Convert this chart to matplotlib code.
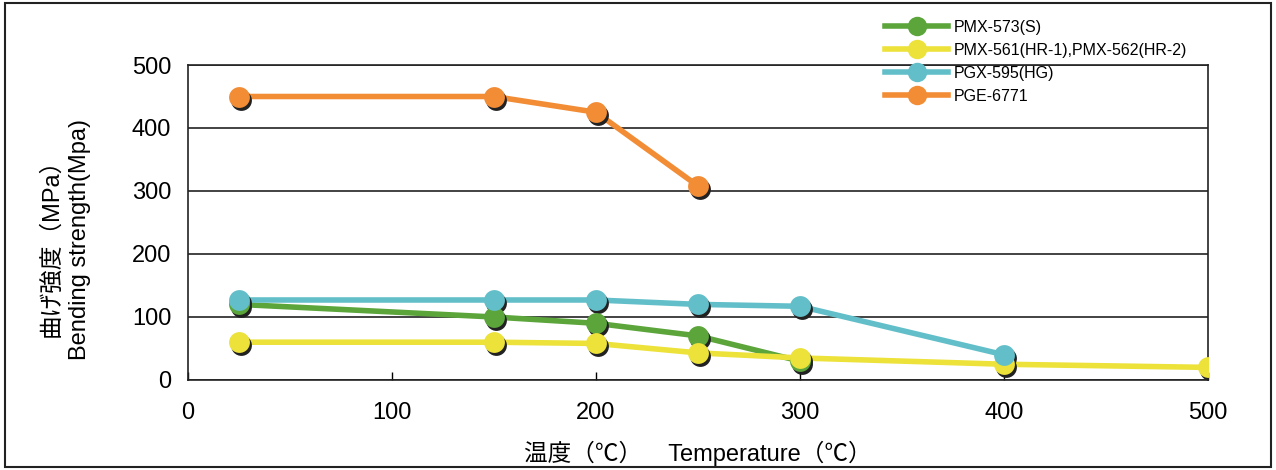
import matplotlib
matplotlib.use("Agg")
import matplotlib.pyplot as plt
import matplotlib.transforms as mtransforms
from matplotlib.patches import Rectangle

plt.rcParams['font.family'] = ['Liberation Sans', 'Noto Sans CJK JP', 'DejaVu Sans']

# data
temp_573 = [25, 150, 200, 250, 300]
str_573 = [120, 100, 90, 70, 30]
temp_561 = [25, 150, 200, 250, 300, 400, 500]
str_561 = [60, 60, 58, 43, 35, 25, 20]
temp_595 = [25, 150, 200, 250, 300, 400]
str_595 = [127, 127, 127, 120, 117, 40]
temp_6771 = [25, 150, 200, 250]
str_6771 = [450, 450, 425, 308]

series = [
    ("PMX-573(S)", temp_573, str_573, "#5ba53b"),
    ("PMX-561(HR-1),PMX-562(HR-2)", temp_561, str_561, "#ece23a"),
    ("PGX-595(HG)", temp_595, str_595, "#62bfc9"),
    ("PGE-6771", temp_6771, str_6771, "#f28c35"),
]

xticks = [0, 100, 200, 300, 400, 500]
yticks = [0, 100, 200, 300, 400, 500]

fig = plt.figure(figsize=(12.76, 4.70), dpi=100)
ax = fig.add_axes([0.1473, 0.1915, 0.7994, 0.6702])

# lines first, then dark shadow dots, then the coloured dots
shadow = mtransforms.offset_copy(ax.transData, fig=fig, x=2.5, y=-3, units='dots')
handles = []
for i, (name, x, y, col) in enumerate(series):
    ax.plot(x, y, color=col, lw=4, zorder=3 + i * 0.1, solid_capstyle='round')
for i, (name, x, y, col) in enumerate(series):
    ax.plot(x, y, ls='none', marker='o', ms=15, color='#222222', mec='none',
            transform=shadow, zorder=4)
for i, (name, x, y, col) in enumerate(series):
    ax.plot(x, y, ls='none', marker='o', ms=15, color=col, mec='none', zorder=5)
    h, = ax.plot([], [], color=col, lw=4, marker='o', ms=14, mec='none')
    handles.append((h, name))

ax.set_xlim(0, 500)
ax.set_ylim(0, 500)
ax.set_xticks(xticks)
ax.set_yticks(yticks)
ax.tick_params(axis='x', direction='in', length=6, width=1, pad=16, labelsize=17)
ax.tick_params(axis='y', length=0, pad=12, labelsize=17)
ax.yaxis.grid(True, color='#222222', lw=1.2)
ax.set_axisbelow(True)
for s in ax.spines.values():
    s.set_linewidth(1.2)
    s.set_color('#222222')

ax.set_xlabel("温度（℃）    Temperature（℃）", fontsize=17, labelpad=12)
fig.text(0.040, 0.485, "曲げ強度（MPa）", rotation=90, fontsize=17, ha='center', va='center')
fig.text(0.063, 0.49, "Bending strength(Mpa)", rotation=90, fontsize=17, ha='center', va='center')

fig.legend([h for h, _ in handles], [n for _, n in handles],
           loc='upper left', bbox_to_anchor=(0.687, 0.975), frameon=False,
           fontsize=11.5, handlelength=4.0, labelspacing=0.5, handletextpad=0.3,
           borderpad=0)

fig.patches.append(Rectangle((0.004, 0.006), 0.992, 0.988, transform=fig.transFigure,
                             fill=False, edgecolor='#222222', lw=1.5))

fig.savefig("out.png", dpi=100)
